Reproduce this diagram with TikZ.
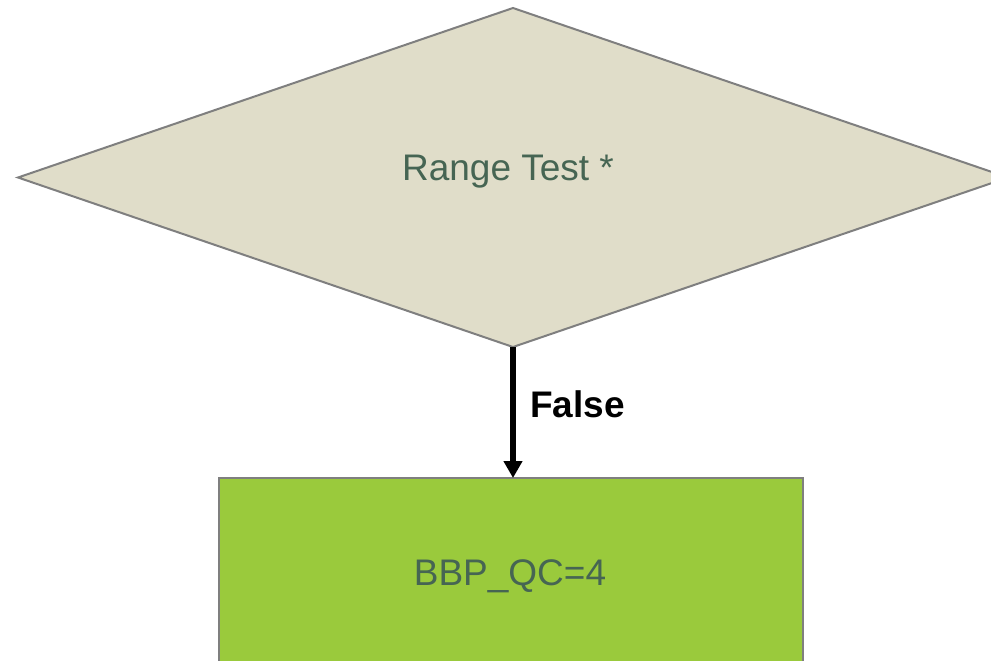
\documentclass[tikz,border=0pt]{standalone}
\usepackage{fontspec}
\setmainfont{Liberation Sans}
\usetikzlibrary{shapes.geometric,arrows.meta}
\definecolor{dfill}{HTML}{E0DDC9}
\definecolor{rfill}{HTML}{9ACA3C}
\definecolor{bord}{HTML}{7F7F7F}
\definecolor{tcol}{HTML}{466553}
\tikzset{
  decision/.style={diamond, draw=bord, line width=2pt, fill=dfill, minimum width=990pt, minimum height=339pt, inner sep=0pt, outer sep=0pt, text=tcol, font=\fontsize{37}{44}\selectfont},
  process/.style={rectangle, draw=bord, line width=2pt, fill=rfill, minimum width=584pt, minimum height=194pt, inner sep=0pt, outer sep=0pt, text=tcol, font=\fontsize{37}{44}\selectfont},
  flow/.style={line width=5.5pt, black, -{Triangle[width=18pt,length=17pt]}},
  lbl/.style={font=\bfseries\fontsize{37}{44}\selectfont, text=black, inner sep=0pt}
}
\begin{document}
\begin{tikzpicture}[x=1pt,y=-1pt]
\useasboundingbox (0,0) rectangle (991,661);
\clip (0,0) rectangle (991,661);
\node[decision] (rt) at (513,177.5) {};
\node[text=tcol, font=\fontsize{37}{44}\selectfont, inner sep=0pt] (rtl) at (508,172) {Range Test *};
\node[process] (bbp) at (511,575) {};
\node[text=tcol, font=\fontsize{37}{44}\selectfont, inner sep=0pt] (bbpl) at (510,576) {BBP\_QC=4};
\draw[flow] (rt.south) -- (rt.south |- bbp.north) coordinate (tip);
\node[lbl, anchor=west] (f) at (530,404) {False};
\end{tikzpicture}
\end{document}
